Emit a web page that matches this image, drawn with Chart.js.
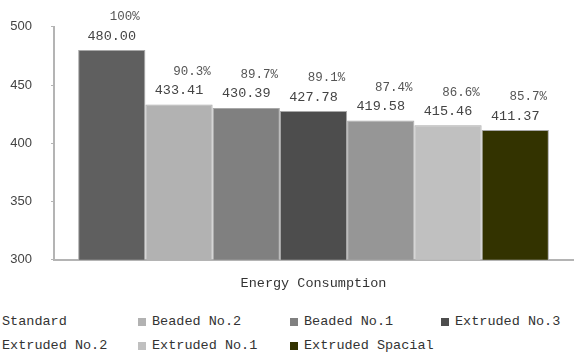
<!DOCTYPE html>
<html>
<head>
<meta charset="utf-8">
<script src="https://cdn.jsdelivr.net/npm/chart.js@4.4.1/dist/chart.umd.min.js"></script>
<style>
  html, body { margin: 0; padding: 0; background: #fff; }
  #wrap { position: relative; width: 574px; height: 358px; overflow: hidden; }
  #chart { position: absolute; left: 0; top: 0; }
  .item { position: absolute; font: 13.5px "Liberation Mono", "DejaVu Sans Mono", monospace; color: #333; white-space: nowrap; line-height: 16px; }
  .box { position: absolute; width: 8px; height: 8px; top: 4px; left: 0; }
  .item span { position: absolute; left: 14px; top: 0; }
</style>
</head>
<body>
<div id="wrap">
  <canvas id="chart" width="574" height="300"></canvas>
  <div id="legend"></div>
</div>
<script>
const category = ["Energy Consumption"];
const seriesNames = ["Standard", "Beaded No.2", "Beaded No.1", "Extruded No.3", "Extruded No.2", "Extruded No.1", "Extruded Spacial"];
const seriesValues = [480.00, 433.41, 430.39, 427.78, 419.58, 415.46, 411.37];
const seriesPercent = ["100%", "90.3%", "89.7%", "89.1%", "87.4%", "86.6%", "85.7%"];
const seriesColors = ["#5f5f5f", "#b2b2b2", "#808080", "#4d4d4d", "#969696", "#c0c0c0", "#333300"];
const yTicks = [300, 350, 400, 450, 500];

const monoFont = '"Liberation Mono", "DejaVu Sans Mono", monospace';

// labels above each bar: value and percent
const barLabels = {
  id: "barLabels",
  afterDatasetsDraw(chart) {
    const ctx = chart.ctx;
    ctx.save();
    ctx.textBaseline = "middle";
    ctx.textAlign = "center";
    chart.data.datasets.forEach((ds, i) => {
      const bar = chart.getDatasetMeta(i).data[0];
      ctx.fillStyle = "#444";
      ctx.font = "13.5px " + monoFont;
      ctx.fillText(seriesValues[i].toFixed(2), bar.x, bar.y - 14);
      ctx.fillStyle = "#555";
      ctx.font = "12.5px " + monoFont;
      ctx.fillText(seriesPercent[i], bar.x + 13, bar.y - 33);
    });
    ctx.restore();
  }
};

new Chart(document.getElementById("chart"), {
  type: "bar",
  data: {
    labels: category,
    datasets: seriesNames.map((name, i) => ({
      label: name,
      data: [seriesValues[i]],
      backgroundColor: seriesColors[i],
      borderColor: "#a8a8a8",
      borderWidth: 1,
      categoryPercentage: 0.907,
      barPercentage: 1
    }))
  },
  plugins: [barLabels],
  options: {
    responsive: false,
    animation: false,
    layout: { padding: { top: 25, right: 1, left: 0, bottom: 0 } },
    plugins: { legend: { display: false }, tooltip: { enabled: false } },
    scales: {
      x: {
        grid: { display: false },
        border: { color: "#b4b4b4", width: 2 },
        ticks: { color: "#333", font: { family: monoFont, size: 13.5 }, padding: 8 }
      },
      y: {
        min: 300,
        max: 500,
        afterFit: (scale) => { scale.width = 54; },
        afterBuildTicks: (scale) => { scale.ticks = yTicks.map(v => ({ value: v })); },
        grid: { drawOnChartArea: false, tickLength: 3, color: "#b4b4b4" },
        border: { color: "#b4b4b4", width: 2 },
        ticks: { color: "#444", padding: 19, font: { family: '"Liberation Sans", Arial, sans-serif', size: 13 } }
      }
    }
  }
});

// legend laid out in columns like the original
const legend = document.getElementById("legend");
const colX = [-12, 138, 290, 441];
const rowY = [314, 338];
seriesNames.forEach((name, i) => {
  const el = document.createElement("div");
  el.className = "item";
  el.style.left = colX[i % 4] + "px";
  el.style.top = rowY[Math.floor(i / 4)] + "px";
  el.innerHTML = '<div class="box" style="background:' + seriesColors[i] + '"></div><span>' + name + '</span>';
  legend.appendChild(el);
});
</script>
</body>
</html>
